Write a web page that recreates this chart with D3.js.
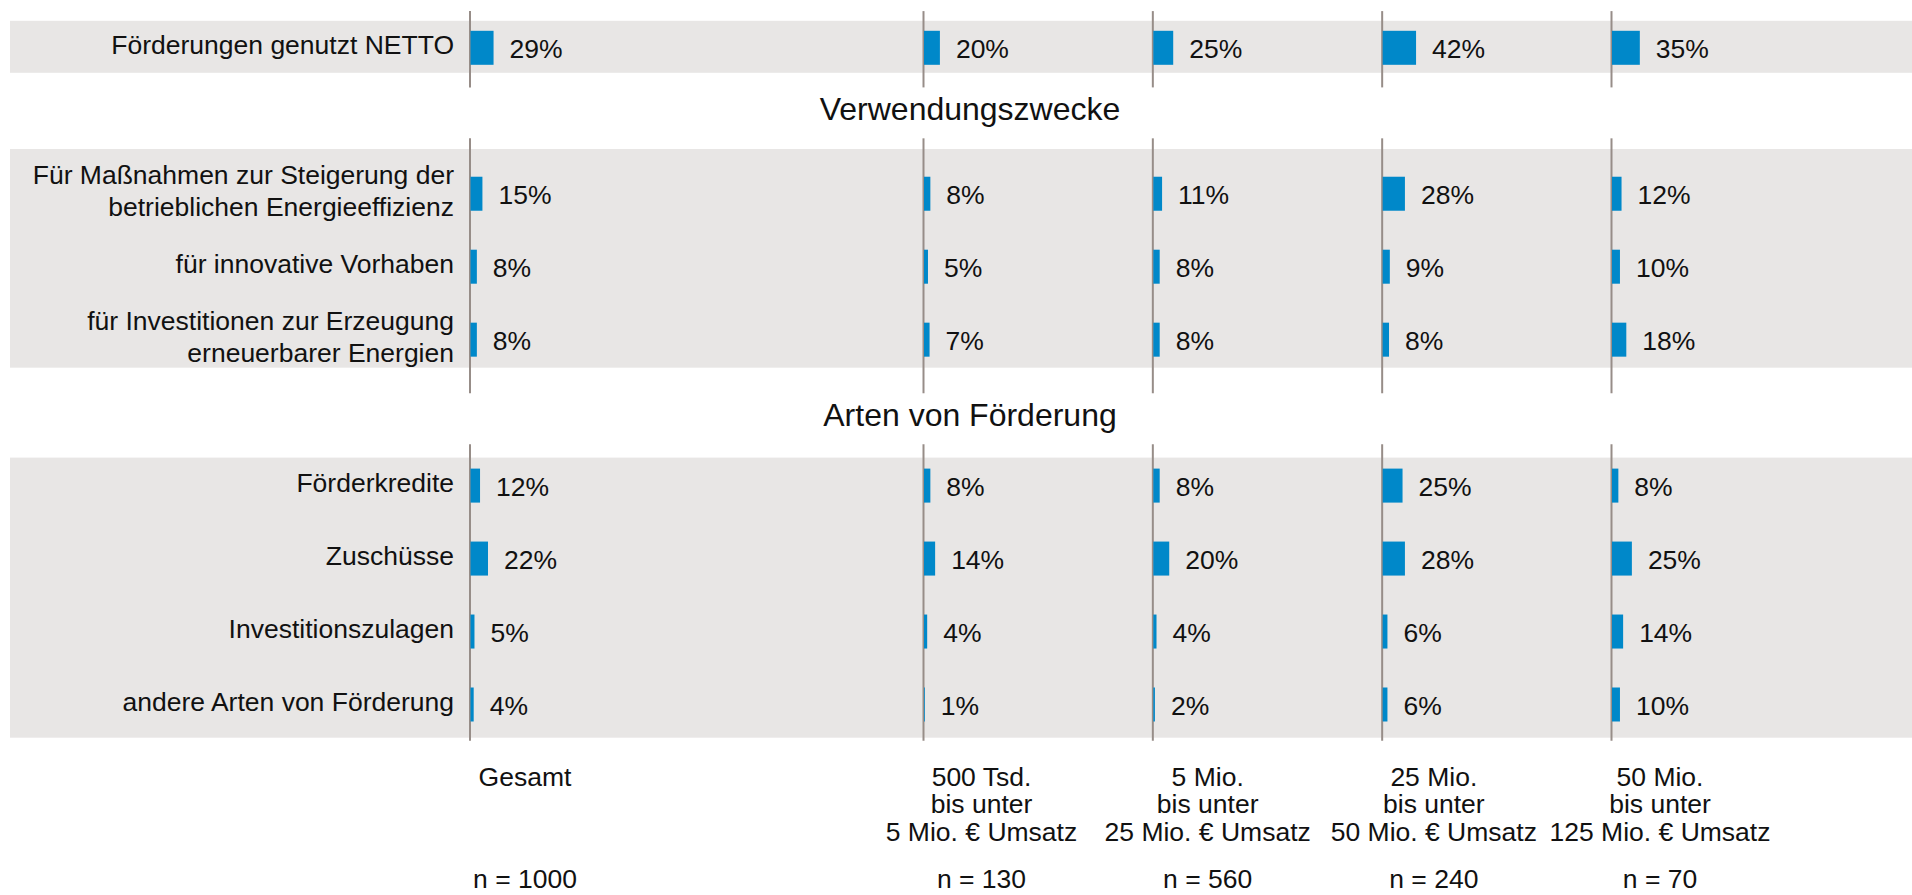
<!DOCTYPE html>
<html>
<head>
<meta charset="utf-8">
<script src="https://cdn.jsdelivr.net/npm/d3@7"></script>
<style>
  html, body { margin: 0; padding: 0; background: #ffffff; }
  svg { display: block; font-family: "Liberation Sans", Arial, Helvetica, sans-serif; }
</style>
</head>
<body>
<svg id="chart" width="1912" height="895"></svg>
<script>
// ---------- DATA ----------
const categories = [
  "Förderungen genutzt NETTO",
  "Für Maßnahmen zur Steigerung der\nbetrieblichen Energieeffizienz",
  "für innovative Vorhaben",
  "für Investitionen zur Erzeugung\nerneuerbarer Energien",
  "Förderkredite",
  "Zuschüsse",
  "Investitionszulagen",
  "andere Arten von Förderung"
];
const sectionTitles = ["Verwendungszwecke", "Arten von Förderung"];
const columnLabels = [
  "Gesamt",
  "500 Tsd.\nbis unter\n5 Mio. € Umsatz",
  "5 Mio.\nbis unter\n25 Mio. € Umsatz",
  "25 Mio.\nbis unter\n50 Mio. € Umsatz",
  "50 Mio.\nbis unter\n125 Mio. € Umsatz"
];
const sampleSizes = ["n = 1000", "n = 130", "n = 560", "n = 240", "n = 70"];

const valuesGesamt = [29, 15, 8, 8, 12, 22, 5, 4];
const values500Tsd = [20, 8, 5, 7, 8, 14, 4, 1];
const values5Mio   = [25, 11, 8, 8, 8, 20, 4, 2];
const values25Mio  = [42, 28, 9, 8, 25, 28, 6, 6];
const values50Mio  = [35, 12, 10, 18, 8, 25, 14, 10];
const series = [valuesGesamt, values500Tsd, values5Mio, values25Mio, values50Mio];

// row slot of each category (slots 1 and 5 hold the section titles)
const rowSlots = [0, 2, 3, 4, 6, 7, 8, 9];
const groups = [
  { rows: [0],          bandPad: [27, 25], axisPad: [36.7, 39.6] },
  { rows: [1, 2, 3],    bandPad: [44.7, 28], axisPad: [55.4, 53.6] },
  { rows: [4, 5, 6, 7], bandPad: [28, 33.2], axisPad: [41.4, 36.2] }
];

// ---------- LAYOUT ----------
const W = 1912, H = 895;
const FONT = 26.5;
const svg = d3.select("#chart");

const y = d3.scalePoint().domain(d3.range(10)).range([47.8, 704.5]);
const colX = d3.scalePoint().domain([1, 2, 3, 4]).range([923.5, 1611.5]);
const axisX = i => i === 0 ? 470 : colX(i);
const headX = d3.scalePoint().domain([1, 2, 3, 4]).range([981.5, 1660]);
const headerX = i => i === 0 ? 525 : headX(i);
const barLen = d3.scaleLinear().domain([0, 100]).range([0, 79.5]);
const barH = 34;

const bandLeft = 10, bandRight = W;

// bands
groups.forEach(g => {
  const top = y(rowSlots[g.rows[0]]) - g.bandPad[0];
  const bot = y(rowSlots[g.rows[g.rows.length - 1]]) + g.bandPad[1];
  svg.append("rect")
    .attr("x", bandLeft).attr("y", top)
    .attr("width", bandRight - bandLeft).attr("height", bot - top)
    .attr("fill", "#e8e6e5");
});

// axis segments per group and column
const segs = groups.map(g => [
  y(rowSlots[g.rows[0]]) - g.axisPad[0],
  y(rowSlots[g.rows[g.rows.length - 1]]) + g.axisPad[1]
]);
series.forEach((s, ci) => {
  segs.forEach(sg => {
    svg.append("line")
      .attr("x1", axisX(ci)).attr("x2", axisX(ci))
      .attr("y1", sg[0]).attr("y2", sg[1])
      .attr("stroke", "#978d88").attr("stroke-width", 2);
  });
});

// section titles centred in the gaps between axis segments
sectionTitles.forEach((t, i) => {
  const gapMid = (segs[i][1] + segs[i + 1][0]) / 2;
  svg.append("text")
    .attr("x", 970).attr("y", gapMid + 7)
    .attr("text-anchor", "middle")
    .attr("font-size", 32)
    .attr("fill", "#111")
    .text(t);
});

// category labels
categories.forEach((c, i) => {
  const lines = c.split("\n");
  const cy = y(rowSlots[i]);
  const t = svg.append("text")
    .attr("text-anchor", "end")
    .attr("font-size", FONT)
    .attr("fill", "#111");
  lines.forEach((ln, li) => {
    t.append("tspan")
      .attr("x", 454)
      .attr("y", cy + 6 + (li - (lines.length - 1) / 2) * 31.7)
      .text(ln);
  });
});

// bars + value labels
series.forEach((s, ci) => {
  const x0 = axisX(ci) + 0.5;
  const g = svg.append("g");
  g.selectAll("rect").data(s).join("rect")
    .attr("x", x0)
    .attr("y", (d, i) => y(rowSlots[i]) - barH / 2)
    .attr("width", d => barLen(d))
    .attr("height", barH)
    .attr("fill", "#0088c9");
  g.selectAll("text").data(s).join("text")
    .attr("x", d => x0 + barLen(d) + 16)
    .attr("y", (d, i) => y(rowSlots[i]) + 10)
    .attr("font-size", FONT)
    .attr("fill", "#111")
    .text(d => d + "%");
});

// column headers
columnLabels.forEach((lab, ci) => {
  const t = svg.append("text")
    .attr("text-anchor", "middle")
    .attr("font-size", FONT)
    .attr("fill", "#111");
  lab.split("\n").forEach((ln, li) => {
    t.append("tspan")
      .attr("x", headerX(ci))
      .attr("y", 785.7 + li * 27.4)
      .text(ln);
  });
  svg.append("text")
    .attr("x", headerX(ci)).attr("y", 888)
    .attr("text-anchor", "middle")
    .attr("font-size", FONT)
    .attr("fill", "#111")
    .text(sampleSizes[ci]);
});
</script>
</body>
</html>
